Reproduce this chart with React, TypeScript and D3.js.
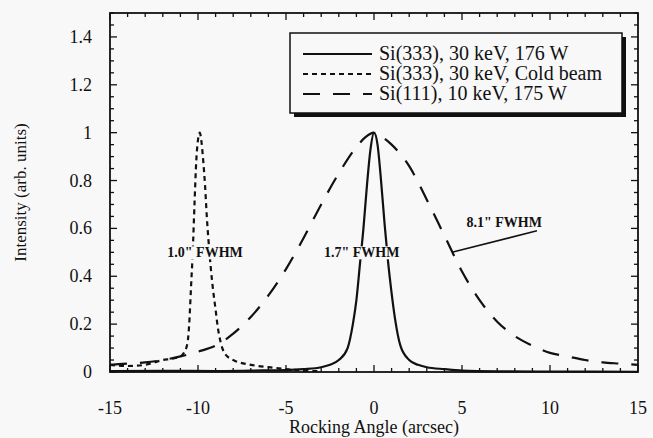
import React, { useRef, useEffect } from "react";
import * as d3 from "d3";

// Si(333), 30 keV, 176 W  (solid)
const hotX = [-15, -12, -9, -7, -5, -4, -3, -2.5, -2, -1.5, -1.2, -1.0, -0.8, -0.6, -0.4, -0.2, 0, 0.2, 0.4, 0.6, 0.8, 1.0, 1.2, 1.5, 2, 2.5, 3, 4, 5, 7, 10, 15];
const hotY = [0.004, 0.005, 0.004, 0.006, 0.008, 0.012, 0.02, 0.03, 0.05, 0.1, 0.2, 0.3, 0.45, 0.6, 0.78, 0.93, 1.0, 0.95, 0.8, 0.62, 0.46, 0.33, 0.22, 0.11, 0.05, 0.03, 0.02, 0.012, 0.006, 0.003, 0.002, 0.001];

// Si(333), 30 keV, Cold beam  (short dash)
const coldX = [-15, -14, -13, -12.5, -12, -11.5, -11, -10.8, -10.6, -10.5, -10.4, -10.3, -10.2, -10.1, -10.0, -9.9, -9.8, -9.7, -9.6, -9.5, -9.35, -9.2, -9.0, -8.9, -8.7, -8.5, -8, -7, -6, -5, -4, -3];
const coldY = [0.03, 0.025, 0.03, 0.04, 0.05, 0.055, 0.065, 0.08, 0.12, 0.2, 0.35, 0.5, 0.7, 0.88, 0.97, 1.0, 0.96, 0.88, 0.78, 0.65, 0.5, 0.38, 0.26, 0.2, 0.12, 0.08, 0.05, 0.03, 0.02, 0.012, 0.006, 0.003];

// Si(111), 10 keV, 175 W  (long dash)
const lowX = [-15, -14, -13, -12, -11, -10, -9, -8, -7, -6, -5, -4, -3, -2, -1, -0.5, 0, 0.5, 1, 2, 3, 4, 5, 6, 7, 8, 9, 10, 11, 12, 13, 14, 15];
const lowY = [0.03, 0.035, 0.04, 0.05, 0.065, 0.085, 0.11, 0.16, 0.23, 0.32, 0.43, 0.56, 0.7, 0.83, 0.94, 0.98, 1.0, 0.98, 0.95, 0.86, 0.72, 0.57, 0.42, 0.3, 0.21, 0.15, 0.11, 0.08, 0.065, 0.05, 0.04, 0.035, 0.03];

const seriesNames = ["Si(333), 30 keV, 176 W", "Si(333), 30 keV, Cold beam", "Si(111), 10 keV, 175 W"];
const xTicks = [-15, -10, -5, 0, 5, 10, 15];
const yTicks = [0, 0.2, 0.4, 0.6, 0.8, 1, 1.2, 1.4];

const App = () => {
  const svgRef = useRef(null);

  useEffect(() => {
    const svg = d3.select(svgRef.current);
    svg.selectAll("*").remove();

    const font = "'Liberation Serif', 'Times New Roman', serif";
    const bg = "#f8f8f8";
    const x = d3.scaleLinear().domain([-15, 15]).range([110, 638]);
    const y = d3.scaleLinear().domain([0, 1.5]).range([372, 13]);

    svg.append("rect").attr("width", 653).attr("height", 438).attr("fill", bg);

    const series = [
      { xs: hotX, ys: hotY, dash: null },
      { xs: coldX, ys: coldY, dash: "5,4" },
      { xs: lowX, ys: lowY, dash: "17,13" },
    ];

    const line = d3
      .line()
      .x((d) => x(d[0]))
      .y((d) => y(d[1]))
      .curve(d3.curveMonotoneX);

    series.forEach((s) => {
      svg
        .append("path")
        .attr("d", line(s.xs.map((v, i) => [v, s.ys[i]])))
        .attr("fill", "none")
        .attr("stroke", "#111")
        .attr("stroke-width", 2.2)
        .attr("stroke-dasharray", s.dash);
    });

    // frame + inward ticks on all sides
    const g = svg.append("g").attr("stroke", "#111").attr("stroke-width", 1.3);
    g.append("rect")
      .attr("x", x(-15))
      .attr("y", y(1.5))
      .attr("width", x(15) - x(-15))
      .attr("height", y(0) - y(1.5))
      .attr("fill", "none")
      .attr("stroke-width", 1.8);

    d3.range(-15, 16, 1).forEach((v) => {
      const len = v % 5 === 0 ? 7 : 4;
      g.append("line").attr("x1", x(v)).attr("x2", x(v)).attr("y1", y(0)).attr("y2", y(0) - len);
      g.append("line").attr("x1", x(v)).attr("x2", x(v)).attr("y1", y(1.5)).attr("y2", y(1.5) + len);
    });
    d3.range(0, 1.5001, 0.05).forEach((v, i) => {
      const len = i % 4 === 0 ? 7 : 4;
      g.append("line").attr("x1", x(-15)).attr("x2", x(-15) + len).attr("y1", y(v)).attr("y2", y(v));
      g.append("line").attr("x1", x(15)).attr("x2", x(15) - len).attr("y1", y(v)).attr("y2", y(v));
    });

    // tick labels
    svg
      .selectAll(".xt")
      .data(xTicks)
      .enter()
      .append("text")
      .attr("x", (d) => x(d))
      .attr("y", 414)
      .attr("text-anchor", "middle")
      .attr("font-family", font)
      .attr("font-size", 18)
      .attr("fill", "#111")
      .text((d) => String(d));

    svg
      .selectAll(".yt")
      .data(yTicks)
      .enter()
      .append("text")
      .attr("x", 92)
      .attr("y", (d) => y(d) + 6)
      .attr("text-anchor", "end")
      .attr("font-family", font)
      .attr("font-size", 18)
      .attr("fill", "#111")
      .text((d) => String(d));

    svg
      .append("text")
      .attr("x", x(0))
      .attr("y", 433)
      .attr("text-anchor", "middle")
      .attr("font-family", font)
      .attr("font-size", 18)
      .attr("fill", "#111")
      .text("Rocking Angle (arcsec)");

    svg
      .append("text")
      .attr("transform", `translate(26, ${y(0.75)}) rotate(-90)`)
      .attr("text-anchor", "middle")
      .attr("font-family", font)
      .attr("font-size", 17)
      .attr("fill", "#111")
      .text("Intensity (arb. units)");

    // legend box with shadow
    const lg = svg.append("g");
    lg.append("rect").attr("x", 294).attr("y", 37).attr("width", 332).attr("height", 80).attr("fill", "#111");
    lg.append("rect")
      .attr("x", 290)
      .attr("y", 33)
      .attr("width", 332)
      .attr("height", 80)
      .attr("fill", bg)
      .attr("stroke", "#111")
      .attr("stroke-width", 1.5);
    seriesNames.forEach((name, i) => {
      const cy = 54 + i * 20;
      lg.append("line")
        .attr("x1", 303)
        .attr("x2", 372)
        .attr("y1", cy)
        .attr("y2", cy)
        .attr("stroke", "#111")
        .attr("stroke-width", 2)
        .attr("stroke-dasharray", series[i].dash);
      lg.append("text")
        .attr("x", 379)
        .attr("y", cy + 6)
        .attr("font-family", font)
        .attr("font-size", 20)
        .attr("fill", "#111")
        .text(name);
    });

    // FWHM annotations (labels knock out the curves behind them)
    const notes = [
      { t: '1.0" FWHM', x: -9.6, y: 0.5 },
      { t: '1.7" FWHM', x: -0.7, y: 0.5 },
      { t: '8.1" FWHM', x: 7.4, y: 0.625 },
    ];
    notes.forEach((n) => {
      const ng = svg.append("g");
      const r = ng.append("rect").attr("fill", bg);
      const t = ng
        .append("text")
        .attr("x", x(n.x))
        .attr("y", y(n.y) + 5)
        .attr("text-anchor", "middle")
        .attr("font-family", font)
        .attr("font-size", 14)
        .attr("font-weight", "bold")
        .attr("fill", "#111")
        .text(n.t);
      const b = t.node().getBBox();
      r.attr("x", b.x - 1).attr("y", b.y + 1).attr("width", b.width + 2).attr("height", b.height - 2);
    });
    svg
      .append("line")
      .attr("x1", x(4.43))
      .attr("y1", y(0.5))
      .attr("x2", x(9.26))
      .attr("y2", y(0.59))
      .attr("stroke", "#111")
      .attr("stroke-width", 1.5);
  }, []);

  return (
    <div style={{ position: "fixed", left: 0, top: 0 }}>
      <svg ref={svgRef} width={653} height={438}></svg>
    </div>
  );
};

export default App;
